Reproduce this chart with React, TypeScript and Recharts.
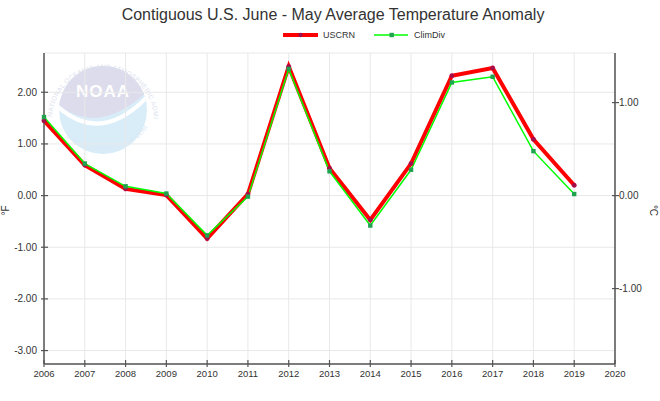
import React from 'react';
import { LineChart, Line, XAxis, YAxis, CartesianGrid, Legend } from 'recharts';

const years = [2006, 2007, 2008, 2009, 2010, 2011, 2012, 2013, 2014, 2015, 2016, 2017, 2018, 2019];
const uscrn = [1.45, 0.59, 0.13, 0.01, -0.83, 0.03, 2.5, 0.53, -0.47, 0.62, 2.32, 2.47, 1.09, 0.2];
const climdiv = [1.52, 0.62, 0.18, 0.04, -0.77, -0.02, 2.45, 0.47, -0.58, 0.5, 2.19, 2.3, 0.86, 0.03];
const xTicks = [2006, 2007, 2008, 2009, 2010, 2011, 2012, 2013, 2014, 2015, 2016, 2017, 2018, 2019, 2020];
const fTicks = [-3, -2, -1, 0, 1, 2];
const cTicks = [-1, 0, 1];
const fDomain = [-3.26, 2.76];
const cDomain = [fDomain[0] / 1.8, fDomain[1] / 1.8];
const title = 'Contiguous U.S. June - May Average Temperature Anomaly';
const seriesNames = ['USCRN', 'ClimDiv'];

const data = years.map((y, i) => ({ year: y, uscrn: uscrn[i], climdiv: climdiv[i] }));

const FONT = '"Liberation Sans", Arial, Helvetica, sans-serif';
const AXIS = '#555';
const TXT = '#333';

const LeftTick = (p: any) => (
  <g>
    <line x1={p.x - 3} x2={p.x + 4} y1={p.y} y2={p.y} stroke={AXIS} strokeWidth={1.2} />
    <text x={p.x - 7} y={p.y} dy="0.35em" textAnchor="end" fontSize={10} fill={TXT} fontFamily={FONT}>
      {Number(p.payload.value).toFixed(2)}
    </text>
  </g>
);

const RightTick = (p: any) => (
  <g>
    <line x1={p.x - 3} x2={p.x + 4} y1={p.y} y2={p.y} stroke={AXIS} strokeWidth={1.2} />
    <text x={p.x + 4} y={p.y} dy="0.35em" textAnchor="start" fontSize={10} fill={TXT} fontFamily={FONT}>
      {Number(p.payload.value).toFixed(2)}
    </text>
  </g>
);

const BottomTick = (p: any) => (
  <g>
    <line x1={p.x} x2={p.x} y1={p.y - 4} y2={p.y + 3} stroke={AXIS} strokeWidth={1.2} />
    <text x={p.x} y={p.y + 10} dy="0.35em" textAnchor="middle" fontSize={9.5} fill={TXT} fontFamily={FONT}>
      {p.payload.value}
    </text>
  </g>
);

const RedDot = (p: any) => {
  if (p.cx == null || p.cy == null) return <g key={p.key} />;
  return <circle key={p.key} cx={p.cx} cy={p.cy} r={2.2} fill="#a0104a" stroke="#c00040" strokeWidth={0.5} />;
};

const GreenDot = (p: any) => {
  if (p.cx == null || p.cy == null) return <g key={p.key} />;
  return <rect key={p.key} x={p.cx - 2.2} y={p.cy - 2.2} width={4.4} height={4.4} fill="#1fa34f" />;
};

const LegendContent = () => (
  <svg width={660} height={16} style={{ display: 'block' }}>
    <line x1={283} x2={318} y1={8} y2={8} stroke="#ff0000" strokeWidth={4} />
    <circle cx={300.5} cy={8} r={2.2} fill="#a0104a" />
    <text x={323} y={8} dy="0.35em" fontSize={9} fill={TXT} fontFamily={FONT}>{seriesNames[0]}</text>
    <line x1={374} x2={408} y1={8} y2={8} stroke="#00ff00" strokeWidth={1.5} />
    <rect x={389.5} y={5.8} width={4.4} height={4.4} fill="#1fa34f" />
    <text x={414} y={8} dy="0.35em" fontSize={9} fill={TXT} fontFamily={FONT}>{seriesNames[1]}</text>
  </svg>
);

const Watermark = () => {
  const cx = 103;
  const cy = 110;
  const r = 44;
  return (
    <svg width={660} height={401} style={{ position: 'absolute', left: 0, top: 0 }}>
      <defs>
        <clipPath id="disk">
          <circle cx={cx} cy={cy} r={r} />
        </clipPath>
        <path id="ringTop" d={`M ${cx - 51} ${cy + 10} A 51 51 0 1 1 ${cx + 51} ${cy + 10}`} />
        <path id="ringBot" d={`M ${cx - 45} ${cy + 17} A 54 54 0 0 0 ${cx + 45} ${cy + 17}`} />
      </defs>
      <circle cx={cx} cy={cy} r={r} fill="#d9edf9" />
      <g clipPath="url(#disk)">
        <path d={`M ${cx - 48} ${cy - 8} Q ${cx - 5} ${cy + 30} ${cx + 48} ${cy - 22} L ${cx + 48} ${cy - 50} L ${cx - 48} ${cy - 50} Z`} fill="#dcdcec" />
        <path d={`M ${cx - 46} ${cy - 4} Q ${cx - 2} ${cy + 36} ${cx + 46} ${cy - 15}`} fill="none" stroke="#ffffff" strokeWidth={4} />
      </g>
      <text x={cx} y={cy - 13} textAnchor="middle" fontSize={17} fontWeight="bold" fill="#ffffff" fontFamily={FONT} letterSpacing={1}>NOAA</text>
      <text fontSize={6.5} fill="#dde2ee" fontFamily={FONT} letterSpacing={0.3}>
        <textPath href="#ringTop" startOffset="2%">NATIONAL OCEANIC AND ATMOSPHERIC ADMINISTRATION</textPath>
      </text>
      <text fontSize={6.5} fill="#dce8f4" fontFamily={FONT} letterSpacing={0.3}>
        <textPath href="#ringBot" startOffset="12%">U.S. DEPARTMENT OF COMMERCE</textPath>
      </text>
    </svg>
  );
};

export default function App() {
  return (
    <div style={{ position: 'absolute', left: 0, top: 0, width: 660, height: 401, background: '#fff', fontFamily: FONT }}>
      <Watermark />
      <svg width={660} height={30} style={{ position: 'absolute', left: 0, top: 0 }}>
        <text x={333} y={20} textAnchor="middle" fontSize={16} fill={TXT} fontFamily={FONT}>{title}</text>
      </svg>
      <div style={{ position: 'absolute', left: 0, top: 0 }}>
        <LineChart width={660} height={401} data={data} margin={{ top: 53, right: 0, bottom: 7, left: 0 }}>
          <CartesianGrid yAxisId="f" stroke="#e8e8e8" strokeWidth={1} />
          <XAxis
            dataKey="year"
            type="number"
            domain={[2006, 2020]}
            ticks={xTicks}
            interval={0}
            height={30}
            tickSize={0}
            tickMargin={0}
            tickLine={false}
            tick={<BottomTick />}
            axisLine={{ stroke: AXIS, strokeWidth: 1.5 }}
          />
          <YAxis
            yAxisId="f"
            orientation="left"
            type="number"
            domain={fDomain}
            ticks={fTicks}
            interval={0}
            width={44}
            tickSize={0}
            tickMargin={0}
            tickLine={false}
            tick={<LeftTick />}
            allowDataOverflow
            axisLine={{ stroke: AXIS, strokeWidth: 1.5 }}
            label={{
              value: '°F',
              content: (lp: any) => {
                const vb = lp.viewBox || { x: 0, y: 53, width: 44, height: 311 };
                const tx = 5;
                const ty = vb.y + vb.height / 2 + 2;
                return (
                  <text x={tx} y={ty} transform={`rotate(-90 ${tx} ${ty})`} textAnchor="middle" dy="0.35em" fontSize={10} fill={TXT} fontFamily={FONT}>
                    °F
                  </text>
                );
              },
            }}
          />
          <YAxis
            yAxisId="c"
            orientation="right"
            type="number"
            domain={cDomain}
            ticks={cTicks}
            interval={0}
            width={45}
            tickSize={0}
            tickMargin={0}
            tickLine={false}
            tick={<RightTick />}
            allowDataOverflow
            axisLine={{ stroke: AXIS, strokeWidth: 1.5 }}
            label={{
              value: '°C',
              content: (lp: any) => {
                const vb = lp.viewBox || { x: 615, y: 53, width: 45, height: 311 };
                const tx = 653;
                const ty = vb.y + vb.height / 2 + 2;
                return (
                  <text x={tx} y={ty} transform={`rotate(90 ${tx} ${ty})`} textAnchor="middle" dy="0.35em" fontSize={10} fill={TXT} fontFamily={FONT}>
                    °C
                  </text>
                );
              },
            }}
          />
          <Legend
            verticalAlign="middle"
            align="center"
            layout="horizontal"
            content={<LegendContent />}
            wrapperStyle={{ position: 'absolute', top: 27, left: 0, width: 660, height: 16 }}
          />
          <Line
            yAxisId="f"
            type="linear"
            dataKey="uscrn"
            name={seriesNames[0]}
            stroke="#ff0000"
            strokeWidth={4}
            dot={RedDot}
            activeDot={false}
            isAnimationActive={false}
          />
          <Line
            yAxisId="f"
            type="linear"
            dataKey="climdiv"
            name={seriesNames[1]}
            stroke="#00ff00"
            strokeWidth={1.5}
            dot={GreenDot}
            activeDot={false}
            isAnimationActive={false}
          />
        </LineChart>
      </div>
    </div>
  );
}
